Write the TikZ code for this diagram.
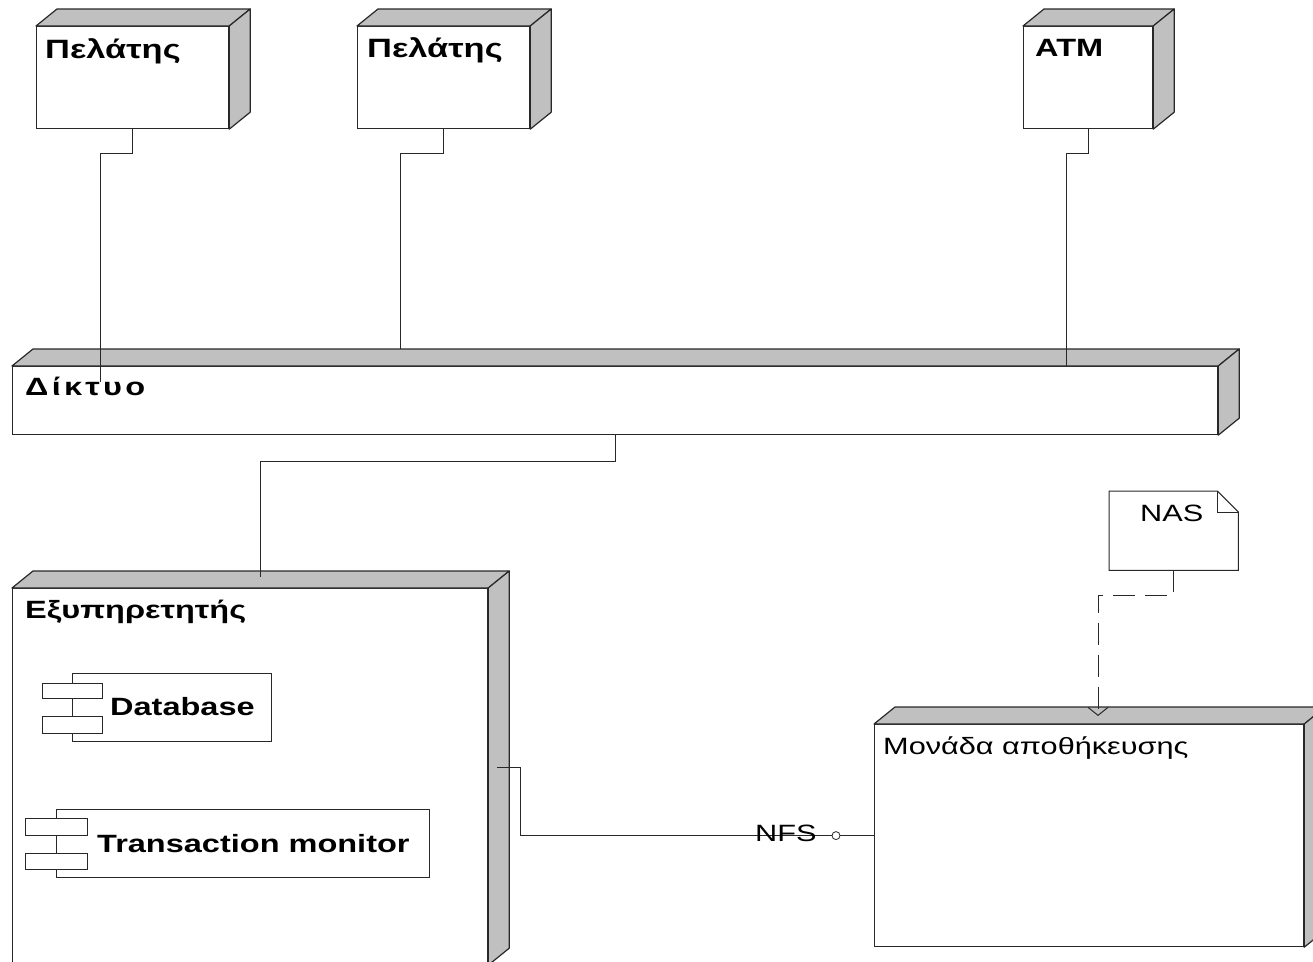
\documentclass[tikz,border=0pt]{standalone}
\usepackage{fontspec}
\setmainfont{Liberation Sans}
\newfontfamily\lblfont[FakeStretch=1.3]{Liberation Sans}
\newfontfamily\lblwidefont[FakeStretch=1.3,LetterSpace=13]{Liberation Sans}
\usetikzlibrary{arrows.meta,calc}
\definecolor{sidegray}{HTML}{C0C0C0}
\definecolor{edge}{HTML}{282828}
\tikzset{
  frontface/.style={draw=edge, line width=1.2pt, fill=white, inner sep=0pt, anchor=north west},
  depthface/.style={draw=edge, line width=1.2pt, fill=sidegray, line join=round},
  boldlabel/.style={anchor=base west, inner sep=0pt, font=\lblfont\bfseries\fontsize{25}{29}\selectfont},
  plainlabel/.style={anchor=base west, inner sep=0pt, font=\lblfont\fontsize{23.6}{27}\selectfont},
  link/.style={draw=edge, line width=1pt},
  comp/.style={draw=edge, line width=1pt, fill=white, inner sep=0pt, anchor=north west},
}
\newcommand{\depthof}[1]{%
  \draw[depthface] (#1.north west) -- ++(21,-17) -- ($(#1.north east)+(21,-17)$) -- (#1.north east) -- cycle;
  \draw[depthface] (#1.north east) -- ++(21,-17) -- ($(#1.south east)+(21,-17)$) -- (#1.south east) -- cycle;
}
\begin{document}
\begin{tikzpicture}[x=1pt,y=-1pt]
\useasboundingbox (0,0) rectangle (1313,961);
\clip (0,0) rectangle (1313,961);
\fill[white] (0,0) rectangle (1313,961);

% nodes
\node[frontface, minimum width=192pt, minimum height=102pt] (c1) at (36,26) {};
\depthof{c1}
\node[boldlabel, font=\lblfont\bfseries\fontsize{26.5}{30}\selectfont] (c1t) at ([xshift=9pt,yshift=-32pt]c1.north west) {Πελάτης};

\node[frontface, minimum width=172pt, minimum height=102pt] (c2) at (357,26) {};
\depthof{c2}
\node[boldlabel, font=\lblfont\bfseries\fontsize{26.5}{30}\selectfont] (c2t) at ([xshift=10pt,yshift=-31pt]c2.north west) {Πελάτης};

\node[frontface, minimum width=129pt, minimum height=102pt] (atm) at (1023,26) {};
\depthof{atm}
\node[boldlabel] (atmt) at ([xshift=12pt,yshift=-30pt]atm.north west) {ATM};

\node[frontface, minimum width=1205pt, minimum height=68pt] (net) at (12,366) {};
\depthof{net}
\node[boldlabel, font=\lblwidefont\bfseries\fontsize{25}{29}\selectfont] (nett) at ([xshift=13pt,yshift=-29pt]net.north west) {Δίκτυο};

\node[frontface, minimum width=475pt, minimum height=376pt] (srv) at (12,588) {};
\depthof{srv}
\node[boldlabel] (srvt) at ([xshift=13pt,yshift=-30pt]srv.north west) {Εξυπηρετητής};

\node[frontface, minimum width=429pt, minimum height=222pt] (sto) at (874,724) {};
\depthof{sto}
\node[plainlabel] (stot) at ([xshift=9pt,yshift=-30pt]sto.north west) {Μονάδα αποθήκευσης};

% components
\node[comp, minimum width=199pt, minimum height=68pt] (db) at (72,673) {};
\node[comp, minimum width=60pt, minimum height=15pt] (dbt1) at (42,683) {};
\node[comp, minimum width=60pt, minimum height=17pt] (dbt2) at (42,716) {};
\node[boldlabel] (dbl) at ([xshift=38pt,yshift=-42pt]db.north west) {Database};

\node[comp, minimum width=373pt, minimum height=68pt] (tm) at (56,809) {};
\node[comp, minimum width=62pt, minimum height=17pt] (tmt1) at (25,818) {};
\node[comp, minimum width=62pt, minimum height=16pt] (tmt2) at (25,853) {};
\node[boldlabel] (tml) at ([xshift=41pt,yshift=-43pt]tm.north west) {Transaction monitor};

% NAS note
\node[inner sep=0pt, minimum width=129pt, minimum height=79pt, anchor=north west] (nas) at (1109,491) {};
\draw[draw=edge, line width=1pt, fill=white] (nas.north west) -- ([xshift=-21pt]nas.north east) -- ([yshift=-21pt]nas.north east) -- (nas.south east) -- (nas.south west) -- cycle;
\draw[draw=edge, line width=0.8pt] ([xshift=-21pt]nas.north east) -- ++(0,21) -- ([yshift=-21pt]nas.north east);
\node[plainlabel] (nasl) at ([xshift=31pt,yshift=-30pt]nas.north west) {NAS};

% connectors
\draw[link] (c1.south) -- ++(0,24) -| ([xshift=88pt,yshift=-16pt]net.north west);
\draw[link] (c2.south) -- ++(0,24) -| ([xshift=388pt,yshift=17pt]net.north west);
\draw[link] (atm.south) -- ++(0,24) -| ([xshift=1054pt]net.north west);
\draw[link] (net.south) -- ++(0,26) -| ([xshift=248pt,yshift=11pt]srv.north west);

\coordinate (srvport) at ([xshift=9pt,yshift=-179pt]srv.north east);
\node[draw=edge, circle, fill=white, minimum size=8pt, inner sep=0pt, line width=0.8pt] (nfs) at ([xshift=-38pt]sto.west) {};
\draw[link] (srvport) -- ++(23,0) |- (nfs.west);
\draw[link] (nfs.east) -- (sto.west);
\node[plainlabel] (nfsl) at (755,841) {NFS};

\draw[link, dash pattern=on 22pt off 10pt, -{Straight Barb[length=8pt,width=20pt]}] (nas.south) -- ++(0,25) -| ([xshift=224pt,yshift=8pt]sto.north west);
\end{tikzpicture}
\end{document}
